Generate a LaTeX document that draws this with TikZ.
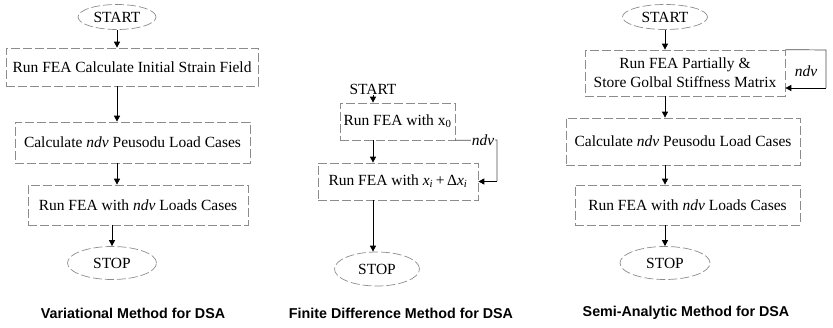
\documentclass[tikz,border=0pt]{standalone}
\usepackage{fontspec}
\setmainfont{Liberation Serif}
\newfontfamily\titlefont{Liberation Sans}
\usetikzlibrary{shapes.geometric,arrows.meta}

\tikzset{
  boxline/.style={draw=black!45, line width=0.7pt, dash pattern=on 9pt off 3pt},
  procbox/.style={boxline, rectangle, inner sep=0pt, font=\fontsize{15.5}{19}\selectfont},
  termoval/.style={boxline, ellipse, inner sep=0pt, font=\fontsize{15.5}{19}\selectfont},
  plainterm/.style={inner sep=1pt, font=\fontsize{15.5}{19}\selectfont},
  flow/.style={draw=black, line width=0.8pt, -{Triangle[length=6pt,width=6pt]}},
  loopline/.style={draw=black!70, line width=0.7pt},
  caption/.style={font=\titlefont\bfseries\fontsize{14.3}{17}\selectfont}
}

\begin{document}
\begin{tikzpicture}[x=1pt,y=-1pt]
\useasboundingbox (0,0) rectangle (833,328);

% ---------- Variational method ----------
\node[termoval, minimum width=78pt, minimum height=25pt] (v0) at (117,17) {START};
\node[procbox, minimum width=252pt, minimum height=38pt] (v1) at (132,67) {Run FEA Calculate Initial Strain Field};
\node[procbox, minimum width=235pt, minimum height=41pt] (v2) at (132.5,142.5) {Calculate \textit{ndv} Peusodu Load Cases};
\node[procbox, minimum width=220pt, minimum height=40pt] (v3) at (138,205) {Run FEA with \textit{ndv} Loads Cases};
\node[termoval, minimum width=89pt, minimum height=33pt] (v4) at (112,263) {STOP};
\draw[flow] (v0.south) -- (v0.south |- v1.north);
\draw[flow] (v0 |- v1.south) -- (v0 |- v2.north);
\draw[flow] (v0 |- v2.south) -- (v0 |- v3.north);
\draw[flow] (v4 |- v3.south) -- (v4.north);
\node[caption] (t1) at (133,313) {Variational Method for DSA};

% ---------- Finite difference method ----------
\node[plainterm] (f0) at (373,89) {START};
\node[procbox, minimum width=115pt, minimum height=37pt] (f1) at (397.5,121.5) {Run FEA with x\textsubscript{0}};
\node[procbox, minimum width=160pt, minimum height=37pt] (f2) at (398,181.5) {Run FEA with \textit{x}\textsubscript{\textit{i}}\,+\,Δ\textit{x}\textsubscript{\textit{i}}};
\node[termoval, minimum width=85pt, minimum height=34pt] (f3) at (377,269) {STOP};
\coordinate (fa) at (497,140);
\coordinate (fb) at (497,181.5);
\draw[flow] (f0.south) -- (f0.south |- f1.north);
\draw[flow] (f0 |- f1.south) -- (f0 |- f2.north);
\draw[flow] (f0 |- f2.south) -- (f0 |- f3.north);
\draw[loopline] (f1.south east) -- (fa) -- (fb);
\draw[flow] (fb) -- (f2.east);
\node[plainterm, fill=white, font=\fontsize{15.5}{19}\selectfont\itshape] (fl) at (483,140) {ndv};
\node[caption] (t2) at (401,313) {Finite Difference Method for DSA};

% ---------- Semi-analytic method ----------
\node[termoval, minimum width=85pt, minimum height=25pt] (s0) at (665,17) {START};
\node[procbox, minimum width=200pt, minimum height=46pt, align=center] (s1) at (685,73) {Run FEA Partially \&\\Store Golbal Stiffness Matrix};
\node[procbox, minimum width=234pt, minimum height=47pt] (s2) at (683,141.5) {Calculate \textit{ndv} Peusodu Load Cases};
\node[procbox, minimum width=225pt, minimum height=40pt] (s3) at (687.5,205) {Run FEA with \textit{ndv} Loads Cases};
\node[termoval, minimum width=90pt, minimum height=33pt] (s4) at (665,263) {STOP};
\coordinate (sa) at (826,50);
\coordinate (sb) at (826,88);
\draw[flow] (s0.south) -- (s0.south |- s1.north);
\draw[flow] (s0 |- s1.south) -- (s0 |- s2.north);
\draw[flow] (s0 |- s2.south) -- (s0 |- s3.north);
\draw[flow] (s0 |- s3.south) -- (s0 |- s4.north);
\draw[loopline] (s1.north east) -- (sa) -- (sb);
\draw[flow] (sb) -- (s1.east |- sb);
\node[plainterm, font=\fontsize{15.5}{19}\selectfont\itshape] (sl) at (806,71) {ndv};
\node[caption] (t3) at (686,313) {Semi-Analytic Method for DSA};
\end{tikzpicture}
\end{document}
